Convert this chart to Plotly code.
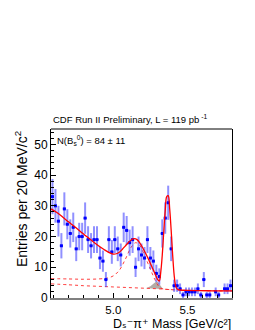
import numpy as np
import plotly.graph_objects as go

# ---- data ----
bin_lo = 4.58
bin_w = 0.02
counts = [33, 30, 25, 17, 29, 24, 21, 23, 16, 20,
          20, 26, 19, 17, 19, 19, 13, 12, 6, 19,
          15, 19, 16, 14, 23, 22, 18, 19, 10, 16,
          14, 13, 19, 13, 12, 8, 7, 21, 26, 31,
          16, 4, 4, 3, 1, 2, 2, 2, 2, 3,
          1, 6, 1, 1, 0, 2, 1, 0, 3, 3, 4]

# total fit (solid red)
fit_m = [4.58, 4.62, 4.66, 4.70, 4.74, 4.78, 4.82, 4.86, 4.90, 4.94, 4.98, 5.00,
         5.02, 5.04, 5.06, 5.08, 5.10, 5.12, 5.14, 5.16, 5.18, 5.20, 5.22, 5.24,
         5.26, 5.28, 5.30, 5.31, 5.32, 5.33, 5.34, 5.35, 5.36, 5.37, 5.38, 5.39,
         5.40, 5.41, 5.42, 5.43, 5.45, 5.50, 5.60, 5.70, 5.80]
fit_v = [29.0, 27.8, 26.3, 24.7, 23.2, 21.6, 20.0, 18.5, 17.0, 15.7, 14.6, 14.3,
         14.4, 14.9, 15.8, 16.9, 18.0, 18.9, 19.3, 19.0, 17.8, 16.2, 14.3, 12.3,
         10.2, 8.0, 5.9, 5.5, 8.5, 14.0, 21.5, 28.5, 33.0, 33.3, 29.0, 22.0,
         14.0, 7.5, 4.0, 2.9, 2.6, 2.5, 2.4, 2.3, 2.3]

# background + partially reconstructed component (dotted)
bump_m = [4.58, 4.70, 4.80, 4.90, 4.96, 5.00, 5.04, 5.08, 5.12, 5.15, 5.18,
          5.20, 5.22, 5.24, 5.26, 5.28, 5.30, 5.32, 5.34, 5.40, 5.50, 5.60, 5.80]
bump_v = [6.3, 6.2, 6.1, 6.2, 6.5, 7.2, 9.0, 12.5, 16.5, 18.0, 17.0,
          15.0, 12.8, 10.5, 8.2, 6.0, 4.2, 3.2, 2.9, 2.7, 2.5, 2.4, 2.3]

# combinatorial background (dotted)
bkg_m = [4.58, 4.70, 4.80, 4.90, 5.00, 5.10, 5.20, 5.30, 5.40, 5.50, 5.60, 5.80]
bkg_v = [4.6, 4.3, 4.0, 3.8, 3.6, 3.4, 3.2, 3.0, 2.7, 2.5, 2.4, 2.3]

# grey shaded component (top edge) over the background
grey_m = [5.22, 5.25, 5.27, 5.29, 5.30, 5.32, 5.335]
grey_base = [3.2, 3.1, 3.05, 3.0, 3.0, 2.95, 2.9]
grey_top = [3.2, 3.8, 4.6, 5.4, 5.2, 3.8, 2.9]

x_ticks = [5.0, 5.5]
x_ticklabels = ["5.0", "5.5"]

# ---- figure ----
centers = [bin_lo + bin_w * (i + 0.5) for i in range(len(counts))]
cnt = [c if c > 0 else None for c in counts]
err = [np.sqrt(c) if c > 0 else None for c in counts]

FONT = "Liberation Sans, Arial, Helvetica, DejaVu Sans, sans-serif"
fig = go.Figure()

fig.add_trace(go.Scatter(x=grey_m, y=grey_base, mode="lines",
                         line=dict(width=0), hoverinfo="skip", showlegend=False))
fig.add_trace(go.Scatter(x=grey_m, y=grey_top, mode="lines", fill="tonexty",
                         fillcolor="rgba(165,158,150,0.85)", line=dict(width=0),
                         showlegend=False))

fig.add_trace(go.Scatter(x=bkg_m, y=bkg_v, mode="lines", line_shape="spline",
                         line=dict(color="rgba(255,40,40,0.9)", width=1, dash="dot"),
                         showlegend=False))
fig.add_trace(go.Scatter(x=bump_m, y=bump_v, mode="lines", line_shape="spline",
                         line=dict(color="rgba(255,40,40,0.9)", width=1, dash="dot"),
                         showlegend=False))

fig.add_trace(go.Scatter(
    x=centers, y=cnt, mode="markers",
    marker=dict(symbol="square", size=3, color="#0000ff"),
    error_y=dict(type="data", array=err, visible=True, width=0,
                 thickness=2, color="rgba(70,70,255,0.6)"),
    error_x=dict(type="constant", value=bin_w / 2, visible=True, width=0,
                 thickness=1, color="#0000ff"),
    showlegend=False))

fig.add_trace(go.Scatter(x=fit_m, y=fit_v, mode="lines", line_shape="spline",
                         line=dict(color="#ff0000", width=1.3), showlegend=False))

fig.update_layout(
    width=255, height=330,
    margin=dict(l=43, r=31, t=121, b=40),
    paper_bgcolor="white", plot_bgcolor="white",
    font=dict(family=FONT, color="black"),
    showlegend=False,
)
fig.update_xaxes(
    range=[4.58, 5.80], tickvals=x_ticks, ticktext=x_ticklabels,
    ticks="inside", ticklen=5, tickcolor="black", tickfont=dict(size=11.5),
    minor=dict(dtick=0.1, tick0=4.6, ticks="inside", ticklen=3, tickcolor="black"),
    showline=True, linecolor="#808080", linewidth=2, mirror=False,
    showgrid=False, zeroline=False,
)
fig.update_yaxes(
    range=[0, 55], dtick=10, tick0=0,
    ticks="inside", ticklen=5, tickcolor="black", tickfont=dict(size=12),
    minor=dict(dtick=2, ticks="inside", ticklen=3, tickcolor="black"),
    showline=True, linecolor="black", linewidth=1, mirror=True,
    showgrid=False, zeroline=False,
)
fig.add_shape(type="line", xref="paper", yref="paper", x0=0, x1=1, y0=1, y1=1,
              line=dict(color="black", width=1))

fig.add_annotation(xref="paper", yref="paper", x=0, y=1, yshift=2,
                   xanchor="left", yanchor="bottom", showarrow=False,
                   text="CDF Run II Preliminary, L = 119 pb<sup> -1</sup>",
                   font=dict(size=9.5))
fig.add_annotation(xref="paper", yref="paper", x=0.02, y=0.985,
                   xanchor="left", yanchor="top", showarrow=False,
                   text="N(B<sub>s</sub><sup>0</sup>) = 84 ± 11",
                   font=dict(size=9.5))
fig.add_annotation(xref="paper", yref="paper", x=1, y=0, yshift=-33.5,
                   xanchor="right", yanchor="bottom", showarrow=False, borderpad=0,
                   text="D\u209b\u207b\u03c0\u207a Mass [GeV/c\u00b2]",
                   font=dict(size=12.5))
fig.add_annotation(xref="paper", yref="paper", x=0, y=1, xshift=-30,
                   xanchor="center", yanchor="top", showarrow=False, textangle=-90,
                   text="Entries per 20 MeV/c<sup>2</sup>",
                   font=dict(size=14))

fig.write_html("out.html")
